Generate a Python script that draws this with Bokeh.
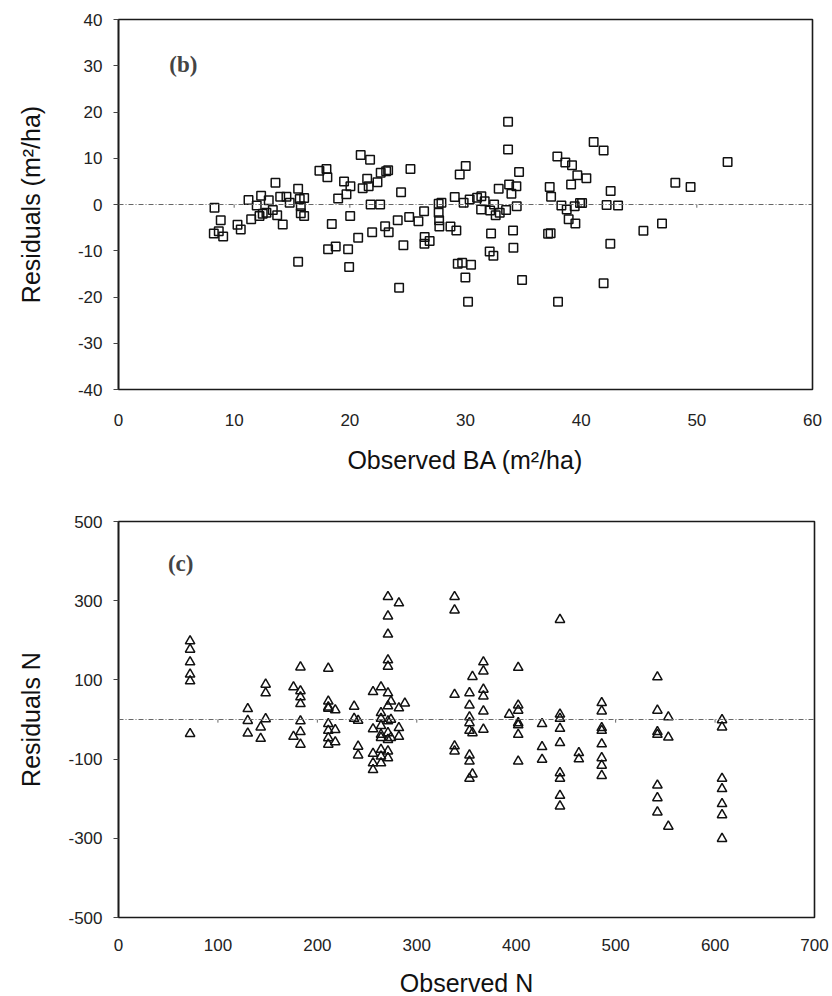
from bokeh.plotting import figure
from bokeh.layouts import column
from bokeh.models import Span, Label, FixedTicker, Range1d
from bokeh.embed import file_html
from bokeh.resources import INLINE

# ---------------- data: panel (b) ----------------
ba_observed = [8.3, 8.84, 8.24, 8.67, 9.05, 10.29, 10.57, 11.47, 11.24, 11.95,
               12.33, 12.19, 12.47, 12.79, 12.99, 13.34, 13.57, 13.72, 13.98, 14.2,
               14.52, 14.8, 15.53, 15.53, 15.67, 15.76, 16.05, 15.76, 16.05, 17.37,
               17.98, 18.06, 18.44, 18.12, 18.78, 19.5, 18.99, 19.71, 19.85, 19.94,
               20.03, 20.05, 20.72, 20.94, 21.75, 21.11, 21.5, 21.63, 22.39, 22.67,
               23.14, 23.31, 21.8, 22.62, 21.93, 23.05, 23.36, 24.63, 24.26, 24.14,
               24.43, 25.24, 25.13, 25.93, 26.42, 26.47, 26.45, 26.9, 27.68, 27.92,
               27.68, 27.72, 27.74, 28.7, 29.21, 29.33, 29.71, 30.48, 29.99, 30.22,
               29.07, 29.5, 30.02, 29.84, 30.36, 31.0, 31.37, 31.66, 31.35, 32.13,
               32.47, 32.61, 32.96, 33.51, 32.21, 32.09, 32.41, 32.87, 33.68, 33.68,
               33.77, 33.97, 34.4, 34.63, 34.43, 34.11, 34.14, 34.89, 37.28, 37.4,
               37.14, 37.36, 37.94, 38.63, 39.21, 39.67, 39.13, 38.29, 38.75, 39.44,
               39.9, 38.92, 39.5, 38.0, 41.08, 41.94, 40.45, 42.55, 42.2, 43.19,
               42.52, 41.94, 45.38, 46.99, 48.14, 49.46, 52.66, 40.08]
ba_residual = [-0.7, -3.4, -6.25, -5.8, -6.9, -4.4, -5.4, -3.2, 1.0, -0.2,
               1.9, -2.5, -2.0, -1.8, 0.9, -1.2, 4.7, -2.3, 1.7, -4.3,
               1.7, 0.4, 3.4, -12.4, 1.2, -0.4, 1.4, -1.9, -2.5, 7.3,
               7.7, 5.9, -4.2, -9.7, -9.1, 5.0, 1.3, 2.2, -9.7, -13.5,
               -2.5, 3.95, -7.2, 10.7, 9.65, 3.5, 5.55, 3.95, 4.8, 6.85,
               7.2, 7.4, 0.0, 0.0, -6.0, -4.7, -6.0, -8.8, -18.0, -3.4,
               2.65, 7.7, -2.7, -3.6, -1.45, -7.0, -8.5, -7.9, 0.15, 0.4,
               -1.8, -3.4, -4.75, -4.75, -5.6, -12.8, -12.6, -13.0, -15.8, -21.0,
               1.6, 6.5, 8.3, 0.4, 1.1, 1.45, 1.8, 0.7, -1.1, -1.3,
               0.0, -2.3, -1.8, -1.2, -6.25, -10.15, -11.1, 3.4, 17.9, 11.9,
               4.3, 2.3, 3.95, 7.05, -0.4, -5.6, -9.35, -16.3, 3.8, 1.65,
               -6.3, -6.2, 10.4, 9.1, 8.5, 6.3, 4.3, -0.2, -1.1, -0.4,
               0.3, -3.2, -4.1, -21.0, 13.5, 11.65, 5.7, 2.9, -0.1, -0.2,
               -8.5, -17.0, -5.7, -4.1, 4.7, 3.8, 9.2, 0.3]
ba_xticks = [0, 10, 20, 30, 40, 50, 60]
ba_yticks = [-40, -30, -20, -10, 0, 10, 20, 30, 40]

# ---------------- data: panel (c) ----------------
n_groups = {
    72: [198, 177, 145, 114, 97, -36],
    130: [27, -3, -35],
    143: [-19.5, -48],
    148: [88.6, 66.6, 1.5],
    176: [82, -43],
    183: [132, 72, 56.5, 39.5, -4, -31, -63],
    211: [129, 46, 31, 28, -11, -28, -46.5, -63],
    218: [24, -26, -57],
    237: [33, 2.5],
    241: [-2.5, -68, -90],
    256: [70, -24, -86, -110, -127],
    264: [82, 17, 2.5, -16, -38, -46, -76, -93, -110],
    271: [310, 261, 215, 150, 134, 66.6, 34, -4, -34, -51, -80, -97],
    274: [46, 0, -46],
    282: [294, 29, -21, -43],
    288: [41],
    338: [310, 276, 63, -67, -80],
    353: [67, 36, 6, -8.6, -28, -90, -105.6, -149],
    356: [108, -34, -138],
    367: [145, 122, 76, 59, 21, -25],
    393: [12.7],
    402: [131, 36, 23, -8.6, -14, -38, -105.6],
    426: [-11, -69, -101],
    444: [252, 13, 2.5, -23, -59, -135, -149, -192, -219],
    463: [-84, -100],
    486: [42, 21, -21, -28, -62, -97, -116, -142],
    542: [107, 23, -31, -38, -166, -198, -234],
    553: [6, -45, -270],
    607: [-1, -19.5, -149, -175, -213, -241, -301],
}
n_observed = [k for k, vals in n_groups.items() for _ in vals]
n_residual = [v for vals in n_groups.values() for v in vals]
n_xticks = [0, 100, 200, 300, 400, 500, 600, 700]
n_yticks = [-500, -300, -100, 100, 300, 500]

label_b = "(b)"
label_c = "(c)"
TICK_FONT = "Liberation Sans"


def style(p, xticks, yticks, title_standoff):
    p.xgrid.visible = False
    p.ygrid.visible = False
    p.outline_line_color = "#1a1a1a"
    p.outline_line_width = 1.6
    p.background_fill_color = "white"
    p.border_fill_color = "white"
    ax = p.xaxis[0]
    ax.ticker = FixedTicker(ticks=xticks)
    ax.major_label_overrides = {t: str(t) for t in xticks}
    ax.axis_line_color = None
    ax.major_tick_line_color = None
    ax.minor_tick_line_color = None
    ax.major_label_text_font = TICK_FONT
    ax.major_label_text_font_size = "17px"
    ax.major_label_text_color = "#222222"
    ax.axis_label_text_font = TICK_FONT
    ax.axis_label_text_font_size = "25px"
    ax.axis_label_text_font_style = "normal"
    ax.axis_label_text_color = "#111111"
    ay = p.yaxis[0]
    ay.ticker = FixedTicker(ticks=yticks)
    ay.major_label_overrides = {t: str(t) for t in yticks}
    ay.axis_line_color = "#1a1a1a"
    ay.axis_line_width = 1.6
    ay.major_tick_out = 5
    ay.major_tick_in = 0
    ay.major_tick_line_color = "#444444"
    ay.minor_tick_line_color = None
    ay.major_label_standoff = 11
    ay.major_label_text_font = TICK_FONT
    ay.major_label_text_font_size = "17px"
    ay.major_label_text_color = "#222222"
    ay.axis_label_text_font = TICK_FONT
    ay.axis_label_text_font_size = "25px"
    ay.axis_label_text_font_style = "normal"
    ay.axis_label_text_color = "#111111"
    ay.axis_label_standoff = title_standoff


# ---------------- panel (b) ----------------
p1 = figure(frame_width=694, frame_height=370,
            min_border_left=117, min_border_right=21,
            min_border_top=19, min_border_bottom=111,
            x_range=Range1d(0, 60), y_range=Range1d(-40, 40),
            x_axis_label="Observed BA (m\u00b2/ha)",
            y_axis_label="Residuals (m\u00b2/ha)",
            output_backend="svg", toolbar_location=None)
style(p1, ba_xticks, ba_yticks, 30)
p1.xaxis[0].major_label_standoff = 18
p1.xaxis[0].axis_label_standoff = 17
p1.add_layout(Span(location=0, dimension="width", line_color="#666666",
                   line_dash="5 2 1 2", line_width=1))
p1.segment(x0=ba_xticks[1:-1], y0=[0] * 5, x1=ba_xticks[1:-1], y1=[-0.7] * 5,
           line_color="#666666", line_width=1)
p1.scatter(ba_observed, ba_residual, marker="square", size=8.5,
           fill_color=None, line_color="#111111", line_width=1.5)
p1.add_layout(Label(x=5.6, y=30.2, text=label_b, text_font="Liberation Serif",
                    text_font_style="bold", text_font_size="23px",
                    text_align="center", text_baseline="middle"))

# ---------------- panel (c) ----------------
p2 = figure(frame_width=696, frame_height=396,
            min_border_left=118, min_border_right=18,
            min_border_top=21, min_border_bottom=79,
            x_range=Range1d(0, 700), y_range=Range1d(-500, 500),
            x_axis_label="Observed N",
            y_axis_label="Residuals N",
            output_backend="svg", toolbar_location=None)
style(p2, n_xticks, n_yticks, 20)
p2.xaxis[0].major_label_standoff = 15
p2.xaxis[0].axis_label_standoff = 15
p2.add_layout(Span(location=0, dimension="width", line_color="#666666",
                   line_dash="5 2 1 2", line_width=1))
p2.segment(x0=n_xticks[1:-1], y0=[0] * 6, x1=n_xticks[1:-1], y1=[-8] * 6,
           line_color="#666666", line_width=1)
p2.scatter(n_observed, n_residual, marker="triangle", size=9.5,
           fill_color=None, line_color="#111111", line_width=1.5)
p2.add_layout(Label(x=62.5, y=393, text=label_c, text_font="Liberation Serif",
                    text_font_style="bold", text_font_size="23px",
                    text_align="center", text_baseline="middle"))

layout = column(p1, p2, spacing=0)
open("out.html", "w").write(file_html(layout, INLINE))
